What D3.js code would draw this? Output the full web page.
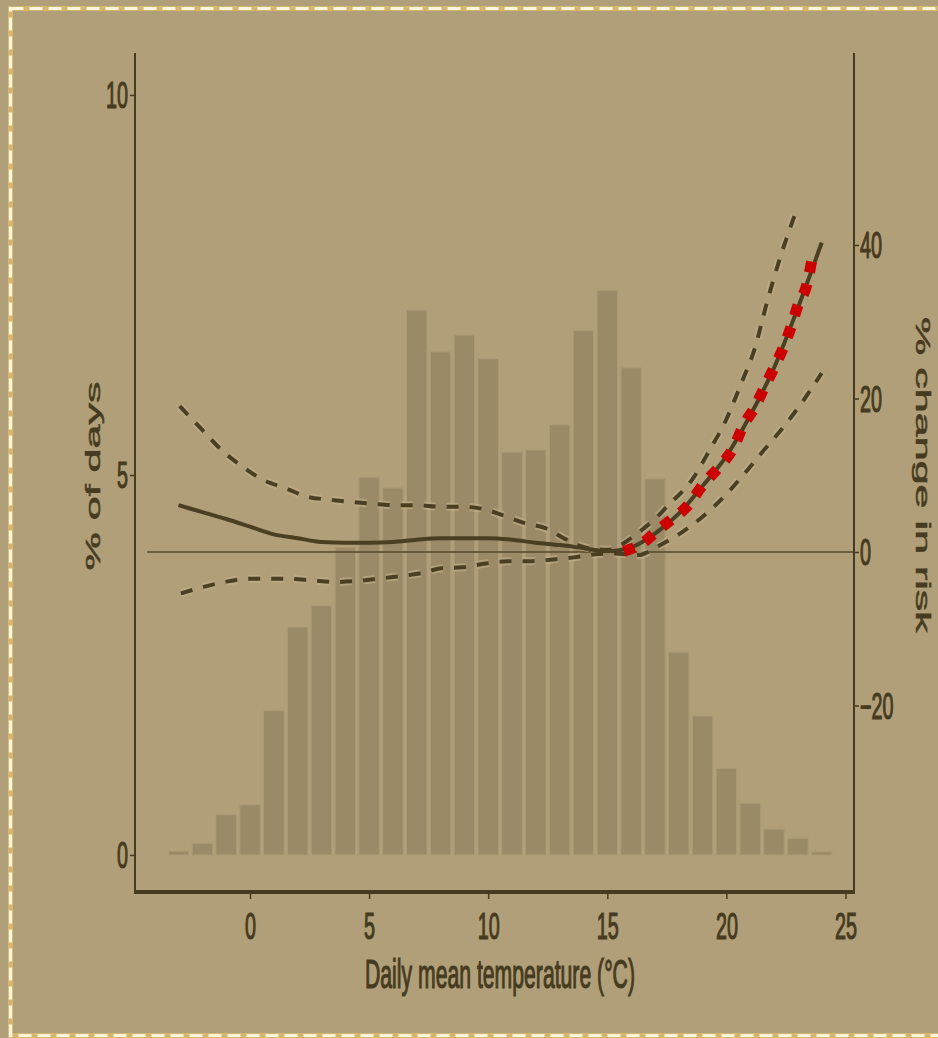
<!DOCTYPE html>
<html>
<head>
<meta charset="utf-8">
<script src="https://cdn.jsdelivr.net/npm/d3@7"></script>
<style>
  body { margin: 0; background: #b09f78; }
  svg { display: block; }
  text { font-family: "Liberation Sans", Arial, sans-serif; fill: #463b20; }
</style>
</head>
<body>
<div id="chart"></div>
<script>
// histogram: % of days per 1 degree bin
const tempBins = [-3,-2,-1,0,1,2,3,4,5,6,7,8,9,10,11,12,13,14,15,16,17,18,19,20,21,22,23,24];
const pctDays = [0.05,0.15,0.53,0.66,1.9,3.0,3.28,4.05,4.97,4.83,7.17,6.62,6.84,6.53,5.30,5.33,5.66,6.9,7.43,6.41,4.95,2.67,1.83,1.14,0.68,0.34,0.22,0.04];

// % change in risk curve
const riskTemps = [-3,-2,-1,0,1,2,3,4,5,6,7,8,9,10,11,12,13,14,15,16,17,18,19,20,21,22,23,24];
const riskVals = [6.1,5.2,4.3,3.3,2.3,1.8,1.3,1.2,1.2,1.3,1.6,1.8,1.8,1.8,1.6,1.2,0.9,0.5,0.1,0.6,2.4,5.0,8.6,12.5,17.8,24.0,31.8,40.3];

// confidence limits
const upperTemps = [-2.95,-2,-1.2,-0.3,0.55,1.5,2.4,3.4,4.3,5.1,6.1,7,8,9,9.8,10.6,11.5,12.4,13.3,14.2,15,16,16.5,17,17.5,18.6,19.3,20,20.6,21.2,21.7,22.2,22.8,23.0];
const upperVals = [19.0,15.9,13.3,11.1,9.4,8.3,7.2,6.8,6.5,6.3,6.1,6.1,5.9,5.9,5.6,4.8,3.8,3.1,1.6,0.5,0.3,1.8,3.0,4.3,5.9,9.6,13.3,17.3,21.8,26.6,32.5,37.8,43.3,45.0];
const lowerTemps = [-2.9,-2,-1.05,-0.1,0.8,1.7,2.6,3.6,4.4,5.3,6.2,7.1,8.1,8.9,9.9,10.8,11.8,12.6,13.6,14.5,15.3,16.3,17.1,18.1,19,19.9,20.7,21.5,22.4,23.2,24];
const lowerVals = [-5.4,-4.6,-3.9,-3.5,-3.5,-3.5,-3.7,-3.9,-3.8,-3.5,-3.2,-2.8,-2.1,-2.0,-1.5,-1.2,-1.2,-1.0,-0.7,-0.3,-0.2,-0.4,0.7,2.5,4.6,7.2,10.0,13.0,16.3,19.6,23.3];

// red highlighted segment
const hotTemps = [15.7,16.5,17.0,17.6,18.4,19.0,19.7,20.3,20.7,21.2,21.6,22.0,22.4,22.7,23.0,23.4,23.6];
const hotVals = [0.1,1.2,2.5,4.0,6.1,8.7,11.1,13.6,16.4,18.9,21.5,24.0,26.7,29.2,32.1,35.1,38.3];

const xTicks = [0,5,10,15,20,25];
const leftTicks = [0,5,10];
const rightTicks = [-20,0,20,40];

const W = 938, H = 1038;
const frame = {left: 135, right: 854, top: 53, bottom: 892};
const ink = '#463b20';

const svg = d3.select('#chart').append('svg')
  .attr('width', W).attr('height', H);

svg.append('rect').attr('width', W).attr('height', H).attr('fill', '#b09f78');

// dashed border (right side runs off the picture)
svg.append('rect')
  .attr('x', 10.5).attr('y', 8.5).attr('width', 960).attr('height', 1027)
  .attr('fill', 'none').attr('stroke', '#d6b66c').attr('stroke-width', 5);
svg.append('rect')
  .attr('x', 10.5).attr('y', 8.5).attr('width', 960).attr('height', 1027)
  .attr('fill', 'none').attr('stroke', '#fff6dc').attr('stroke-width', 3.2)
  .attr('stroke-dasharray', '13,6');

// scales
const x = d3.scaleLinear().domain([0, 25]).range([250, 845.5]);
const yDays = d3.scaleLinear().domain([0, 10]).range([855, 95]);
const yRisk = d3.scaleLinear().domain([0, 40]).range([552, 245]);

// bars
const bw = x(1) - x(0);
svg.selectAll('.bar')
  .data(tempBins)
  .enter()
  .append('rect')
  .attr('class', 'bar')
  .attr('x', (d) => x(d - 0.5) + 1.7)
  .attr('width', bw - 3.4)
  .attr('y', (d, i) => yDays(pctDays[i]))
  .attr('height', (d, i) => yDays(0) - yDays(pctDays[i]))
  .attr('fill', '#9a8a67')
  .attr('stroke', '#ab9b76')
  .attr('stroke-width', 1);

// reference line at 0% change
svg.append('line')
  .attr('x1', 147).attr('x2', frame.right)
  .attr('y1', yRisk(0)).attr('y2', yRisk(0))
  .attr('stroke', '#54482a').attr('stroke-width', 1.6);

const line = d3.line()
  .x((d) => x(d[0]))
  .y((d) => yRisk(d[1]))
  .curve(d3.curveMonotoneX);

const upper = upperTemps.map((t, i) => [t, upperVals[i]]);
const lower = lowerTemps.map((t, i) => [t, lowerVals[i]]);
const risk = riskTemps.map((t, i) => [t, riskVals[i]]);
const hot = hotTemps.map((t, i) => [t, hotVals[i]]);

// light halo under the dashed lines
[upper, lower].forEach(function(pts) {
  svg.append('path')
    .attr('d', line(pts))
    .attr('fill', 'none')
    .attr('stroke', '#c1b08a')
    .attr('stroke-opacity', 0.6)
    .attr('stroke-width', 8)
    .attr('stroke-dasharray', '12,11');
  svg.append('path')
    .attr('d', line(pts))
    .attr('fill', 'none')
    .attr('stroke', '#4a3f22')
    .attr('stroke-width', 4)
    .attr('stroke-dasharray', '12,11');
});

svg.append('path')
  .attr('d', line(risk))
  .attr('fill', 'none')
  .attr('stroke', '#4a3f22')
  .attr('stroke-width', 4);

svg.append('path')
  .attr('d', line(hot))
  .attr('fill', 'none')
  .attr('stroke', '#cc0000')
  .attr('stroke-width', 11)
  .attr('stroke-dasharray', '11,12');

// axes
function styleTicks(g) {
  g.select('.domain').remove();
  g.selectAll('.tick line').attr('stroke', ink).attr('stroke-width', 1.5);
  g.selectAll('.tick text')
    .attr('fill', ink)
    .attr('stroke', ink)
    .attr('stroke-width', 1.2)
    .style('font-size', '36px');
}

const xAxisG = svg.append('g')
  .attr('transform', 'translate(0,' + frame.bottom + ')')
  .call(d3.axisBottom(x).tickValues(xTicks).tickSize(7))
  .call(styleTicks);
xAxisG.selectAll('.tick text')
  .attr('y', null).attr('dy', null)
  .attr('transform', 'translate(0,47) scale(0.55,1)');

const leftAxisG = svg.append('g')
  .attr('transform', 'translate(' + frame.left + ',0)')
  .call(d3.axisLeft(yDays).tickValues(leftTicks).tickSize(5))
  .call(styleTicks);
leftAxisG.selectAll('.tick text')
  .attr('x', null).attr('dy', '0.36em')
  .attr('transform', 'translate(-7,0) scale(0.55,1)');

const rightAxisG = svg.append('g')
  .attr('transform', 'translate(' + frame.right + ',0)')
  .call(d3.axisRight(yRisk).tickValues(rightTicks).tickSize(5))
  .call(styleTicks);
rightAxisG.selectAll('.tick text')
  .attr('x', null).attr('dy', '0.36em')
  .attr('transform', 'translate(6,0) scale(0.55,1)');

// frame lines
svg.append('line')
  .attr('x1', frame.left).attr('x2', frame.left)
  .attr('y1', frame.top).attr('y2', frame.bottom)
  .attr('stroke', ink).attr('stroke-width', 2);
svg.append('line')
  .attr('x1', frame.right).attr('x2', frame.right)
  .attr('y1', frame.top).attr('y2', frame.bottom)
  .attr('stroke', ink).attr('stroke-width', 2);
svg.append('line')
  .attr('x1', frame.left - 1).attr('x2', frame.right + 1)
  .attr('y1', frame.bottom).attr('y2', frame.bottom)
  .attr('stroke', ink).attr('stroke-width', 4);

// titles
svg.append('text')
  .attr('transform', 'translate(500,988) scale(0.53,1)')
  .attr('text-anchor', 'middle')
  .attr('stroke', ink)
  .attr('stroke-width', 1.2)
  .style('font-size', '40px')
  .text('Daily mean temperature (°C)');

svg.append('text')
  .attr('transform', 'translate(93,476) rotate(-90) scale(2.05,1)')
  .attr('text-anchor', 'middle')
  .attr('dominant-baseline', 'central')
  .attr('stroke', ink)
  .attr('stroke-width', 0.5)
  .style('font-size', '21px')
  .text('% of days');

svg.append('text')
  .attr('transform', 'translate(923,475) rotate(90) scale(2.05,1)')
  .attr('text-anchor', 'middle')
  .attr('dominant-baseline', 'central')
  .attr('stroke', ink)
  .attr('stroke-width', 0.5)
  .style('font-size', '21px')
  .text('% change in risk');
</script>
</body>
</html>
